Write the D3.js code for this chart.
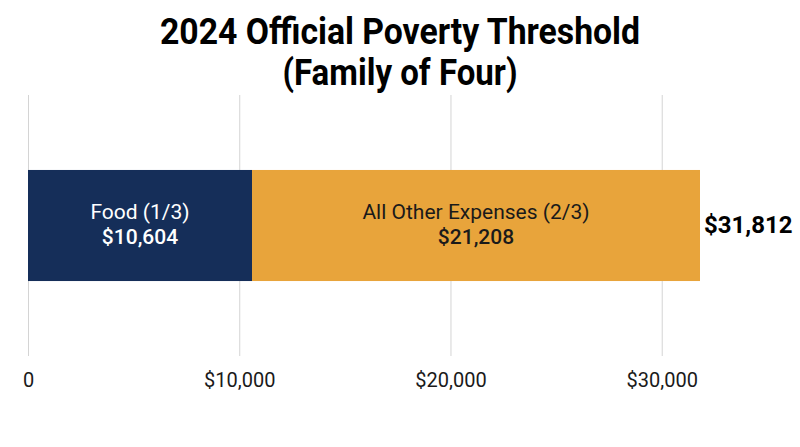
<!DOCTYPE html>
<html>
<head>
<meta charset="utf-8">
<script src="https://cdn.jsdelivr.net/npm/d3@7"></script>
<style>
  body { margin: 0; background: #fff; }
  svg { display: block; font-family: Roboto, "Noto Sans", sans-serif; }
</style>
</head>
<body>
<div id="chart"></div>
<script>
// Data
var categories = ["Food (1/3)", "All Other Expenses (2/3)"];
var values = [10604, 21208];
var barColors = ["#152e59", "#e8a43b"];
var labelColors = ["#ffffff", "#1a1a1a"];
var tickValues = [0, 10000, 20000, 30000];
var titleLines = ["2024 Official Poverty Threshold", "(Family of Four)"];

var width = 800;
var height = 447;

var svg = d3.select("#chart")
  .append("svg")
  .attr("width", width)
  .attr("height", height);

// title
svg.selectAll(".title")
  .data(titleLines)
  .enter()
  .append("text")
  .attr("class", "title")
  .attr("x", width / 2)
  .attr("y", function(d, i) { return 44 + i * 41; })
  .attr("text-anchor", "middle")
  .attr("textLength", function(d, i) { return i === 0 ? 480 : 235; })
  .attr("lengthAdjust", "spacingAndGlyphs")
  .style("font-size", "37px")
  .style("font-weight", "700")
  .style("fill", "#000")
  .text(function(d) { return d; });

var total = d3.sum(values);

// scales
var x = d3.scaleLinear()
  .domain([0, total])
  .range([28, 700]);

var y = d3.scaleBand()
  .domain(["Family of Four"])
  .range([95, 356])
  .padding(0.403);

// gridlines + tick labels
var axis = svg.append("g")
  .attr("transform", "translate(0,356)")
  .call(d3.axisBottom(x)
    .tickValues(tickValues)
    .tickSizeInner(-261)
    .tickSizeOuter(0)
    .tickPadding(17)
    .tickFormat(function(d) { return d === 0 ? "0" : d3.format("$,")(d); }));

axis.select(".domain").remove();
axis.selectAll(".tick line").attr("stroke", "#d4d4d4").attr("stroke-width", 1);
axis.selectAll(".tick text")
  .attr("fill", "#1a1a1a")
  .style("font-size", "20px")
  .style("font-family", "Roboto, sans-serif");

// stacked segments
var segs = [];
var run = 0;
values.forEach(function(v, i) {
  segs.push({ label: categories[i], value: v, x0: run, x1: run + v, i: i });
  run += v;
});

var bar = svg.selectAll(".seg")
  .data(segs)
  .enter()
  .append("g")
  .attr("class", "seg");

bar.append("rect")
  .attr("x", function(d) { return x(d.x0); })
  .attr("y", y("Family of Four"))
  .attr("width", function(d) { return x(d.x1) - x(d.x0); })
  .attr("height", y.bandwidth())
  .attr("fill", function(d) { return barColors[d.i]; });

var cy = y("Family of Four") + y.bandwidth() / 2;

bar.append("text")
  .attr("x", function(d) { return (x(d.x0) + x(d.x1)) / 2; })
  .attr("y", cy - 7)
  .attr("text-anchor", "middle")
  .style("font-size", "21px")
  .style("fill", function(d) { return labelColors[d.i]; })
  .text(function(d) { return d.label; });

bar.append("text")
  .attr("x", function(d) { return (x(d.x0) + x(d.x1)) / 2; })
  .attr("y", cy + 18.5)
  .attr("text-anchor", "middle")
  .style("font-size", "21px")
  .style("font-weight", "500")
  .style("fill", function(d) { return labelColors[d.i]; })
  .text(function(d) { return d3.format("$,")(d.value); });

// total label
svg.append("text")
  .attr("x", x(total) + 4)
  .attr("y", cy + 7)
  .style("font-size", "24px")
  .style("font-weight", "700")
  .style("fill", "#000")
  .text(d3.format("$,")(total));
</script>
</body>
</html>
